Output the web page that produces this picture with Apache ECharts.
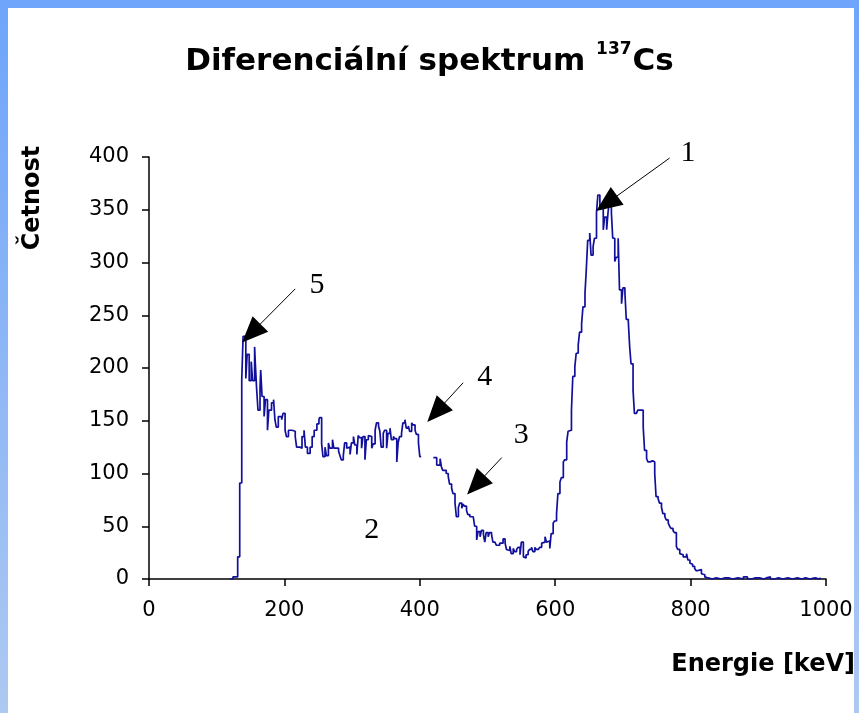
<!DOCTYPE html>
<html>
<head>
<meta charset="utf-8">
<script src="https://cdn.jsdelivr.net/npm/echarts@6/dist/echarts.min.js"></script>
<style>
html,body{margin:0;padding:0;width:859px;height:713px;overflow:hidden;background:#fff;}
#frame{position:absolute;left:0;top:0;width:859px;height:713px;background:linear-gradient(#6ea4fa,#adc9f1);}
#inner{position:absolute;left:8px;top:8px;width:846px;height:705px;background:#fff;}
#main{position:absolute;left:0;top:0;width:859px;height:713px;}
</style>
</head>
<body>
<div id="frame"></div>
<div id="inner"></div>
<div id="main"></div>
<script>
// Energy (keV) of each step and counts (Četnost); null = missing data (gap)
const energies = [
 120,124,131,134,137,139,143,145,148,151,153,156,157,159,161,164,165,167,170,172,175,177,181,184,186,188,191,196,198,201,203,206,211,216,218,223,226,229,231,234,238,241,244,248,251,
 252,255,257,260,262,265,267,271,273,277,280,282,284,287,289,292,294,297,299,302,304,307,309,311,314,316,319,321,324,326,329,331,334,336,339,341,343,346,348,351,353,356,358,361,363,366,368,370,373,375,378,380,383,385,388,390,393,395,398,400,
 402,
 420,425,430,432,434,439,442,444,447,449,452,454,457,459,462,464,466,469,471,474,479,481,484,486,489,491,494,496,498,501,503,506,508,511,513,518,523,526,528,530,533,535,538,540,543,545,548,550,553,555,557,560,562,565,567,570,572,575,577,580,582,585,587,589,592,594,597,
 599,602,604,607,609,612,614,617,619,621,624,626,629,631,634,636,639,641,644,646,648,651,653,656,658,661,663,666,668,671,673,676,678,680,683,685,688,690,693,695,698,700,703,705,708,710,712,715,
 717,720,722,725,727,730,732,735,737,740,742,744,747,749,752,754,757,759,762,764,767,769,771,774,776,779,781,784,786,789,791,794,796,799,801,803,806,808,811,813,816,818,821,823,
 826,832,838,845,850,856,862,870,878,884,890,896,902,908,912,918,924,930,936,944,950,958,964,970,976,984,990,992
];
const counts = [
 0,2,21,91,189,230,190,213,188,206,188,220,205,180,160,182,198,173,154,170,141,160,167,170,151,144,154,151,157,141,135,141,140,135,125,124,135,141,125,119,125,135,141,147,151,
 153,128,116,125,117,129,124,132,124,124,121,117,113,117,129,124,125,118,129,135,127,118,136,134,124,135,113,132,136,135,124,128,141,148,145,140,125,138,141,124,138,143,132,135,133,111,129,135,138,148,151,143,145,140,148,146,141,137,129,116,
 null,
 115,108,114,106,103,100,97,90,86,81,72,59,68,72,67,71,69,65,61,59,58,50,37,45,40,46,42,35,44,40,44,42,35,34,32,34,38,34,28,27,31,24,29,26,28,30,23,35,21,20,23,26,28,30,26,30,28,29,30,34,35,40,35,36,29,43,53,
 55,62,81,92,96,111,113,130,140,141,160,192,201,214,222,234,242,258,271,294,321,328,307,315,323,347,364,350,352,331,343,331,347,359,347,323,301,305,323,274,261,276,271,246,244,220,204,179,
 157,156,160,161,160,144,122,114,111,110,112,111,100,78,76,72,68,62,59,56,53,50,48,46,44,31,28,24,23,21,21,24,18,15,14,12,10,8,7,9,5,4,2,1,
 0,1,0,1,1,0,1,0,2,0,1,1,0,1,2,0,1,0,1,0,1,0,1,0,1,0,1,0
];

// Axis ticks
const xTicks = [0, 200, 400, 600, 800, 1000];
const yTicks = [0, 50, 100, 150, 200, 250, 300, 350, 400];

// Annotation numbers (data coordinates) and arrows (tail -> head)
const noteText = ['1', '2', '3', '4', '5'];
const noteX = [796, 329, 550, 496, 248];
const noteY = [400, 46, 136, 191, 279];
const arrowFromX = [769, 521, 464, 216];
const arrowFromY = [399, 115, 186, 275];
const arrowToX = [676, 483, 424, 151];
const arrowToY = [356, 89, 158, 233];

const seriesData = energies.map((e, i) => [e, counts[i] === null ? '-' : counts[i]]);

const chart = echarts.init(document.getElementById('main'), null, {renderer: 'canvas'});
chart.setOption({
  backgroundColor: 'transparent',
  animation: false,
  title: {
    text: '{a|Diferenciální spektrum }{s|137}{a|Cs}',
    left: 'center',
    top: 32,
    textStyle: {
      rich: {
        a: {fontFamily: 'DejaVu Sans', fontWeight: 'bold', fontSize: 31, color: '#000', lineHeight: 40, verticalAlign: 'bottom'},
        s: {fontFamily: 'DejaVu Sans', fontWeight: 'bold', fontSize: 17, color: '#000', lineHeight: 40, verticalAlign: 'bottom', padding: [0, 1, 19, 0]}
      }
    }
  },
  grid: {left: 149, top: 157, width: 677, height: 422, containLabel: false},
  xAxis: {
    type: 'value', min: xTicks[0], max: xTicks[xTicks.length - 1], interval: 200,
    name: 'Energie [keV]', nameLocation: 'end', nameGap: 29,
    nameTextStyle: {fontFamily: 'DejaVu Sans', fontWeight: 'bold', fontSize: 24, color: '#000', align: 'right', verticalAlign: 'top', padding: [74, 0, 0, 0]},
    axisLine: {show: true, lineStyle: {color: '#000', width: 1.5}},
    axisTick: {show: true, inside: false, length: 7, lineStyle: {color: '#000', width: 1.5}},
    axisLabel: {fontFamily: 'DejaVu Sans', fontSize: 21, color: '#000', margin: 21, formatter: v => String(v)},
    splitLine: {show: false}
  },
  yAxis: {
    type: 'value', min: yTicks[0], max: yTicks[yTicks.length - 1], interval: 50,
    name: 'Četnost', nameLocation: 'middle', nameGap: 104, nameRotate: 90,
    nameTextStyle: {fontFamily: 'DejaVu Sans', fontWeight: 'bold', fontSize: 24, color: '#000', align: 'center', padding: [0, 0, 0, 340]},
    axisLine: {show: true, lineStyle: {color: '#000', width: 1.5}},
    axisTick: {show: true, inside: false, length: 7, lineStyle: {color: '#000', width: 1.5}},
    axisLabel: {fontFamily: 'DejaVu Sans', fontSize: 21, color: '#000', margin: 20, formatter: v => String(v)},
    splitLine: {show: false}
  },
  series: [{
    type: 'line',
    step: 'end',
    data: seriesData,
    showSymbol: false,
    connectNulls: false,
    lineStyle: {color: '#10109c', width: 1.7},
    itemStyle: {color: '#10109c'},
    emphasis: {disabled: true},
    markLine: {
      silent: true,
      animation: false,
      symbol: ['none', 'triangle'],
      symbolSize: [22, 26],
      label: {show: false},
      lineStyle: {color: '#000', width: 1, type: 'solid'},
      itemStyle: {color: '#000'},
      emphasis: {disabled: true},
      data: arrowFromX.map((x, i) => [
        {coord: [x, arrowFromY[i]]},
        {coord: [arrowToX[i], arrowToY[i]]}
      ])
    },
    markPoint: {
      silent: true,
      animation: false,
      symbol: 'circle',
      symbolSize: 1,
      itemStyle: {color: 'rgba(0,0,0,0)'},
      label: {show: true, position: 'inside', fontFamily: 'Liberation Serif', fontSize: 30, color: '#000'},
      data: noteText.map((t, i) => ({coord: [noteX[i], noteY[i]], value: t, label: {formatter: t, offset: i === 0 ? [0, -4] : [0, 0]}}))
    }
  }]
});
</script>
</body>
</html>
